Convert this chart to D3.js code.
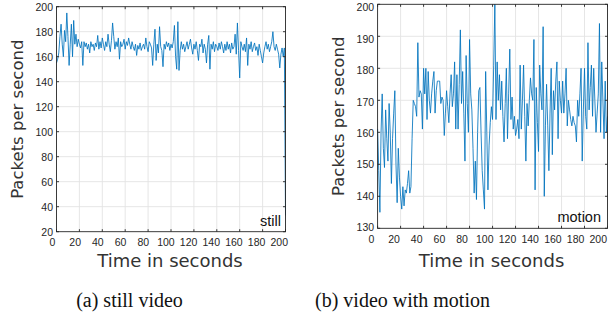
<!DOCTYPE html>
<html>
<head>
<meta charset="utf-8">
<script src="https://cdn.jsdelivr.net/npm/d3@7"></script>
<style>
  body { margin: 0; background: #fff; }
  svg { display: block; }
</style>
</head>
<body>
<svg id="chart" width="608" height="324"></svg>
<script>
// Packets per second, one sample per second (t = 0..200)
const stillRate = [
  155, 158, 163, 176, 186, 170, 160, 181, 172, 195, 176, 153, 170, 186, 160, 189, 170, 178, 168, 174,
  170, 167, 172, 153, 172, 168, 171, 166, 170, 163, 172, 168, 170, 165, 171, 168, 177, 166, 172, 167,
  175, 170, 165, 172, 168, 178, 170, 164, 173, 187, 176, 166, 172, 168, 175, 158, 172, 168, 170, 174,
  166, 172, 169, 175, 170, 166, 172, 168, 165, 170, 161, 169, 166, 171, 165, 168, 170, 166, 175, 168,
  164, 172, 170, 167, 153, 170, 182, 157, 170, 163, 184, 168, 165, 152, 170, 166, 172, 168, 171, 165,
  170, 167, 172, 185, 160, 150, 188, 149, 165, 172, 166, 170, 164, 168, 172, 166, 170, 174, 167, 162,
  170, 166, 172, 165, 157, 170, 168, 174, 163, 170, 166, 155, 170, 177, 150, 170, 166, 172, 164, 170,
  168, 165, 171, 166, 172, 168, 163, 170, 165, 172, 166, 170, 163, 171, 166, 168, 178, 162, 187, 165,
  143, 172, 168, 165, 170, 164, 175, 153, 170, 166, 172, 164, 168, 171, 165, 168, 161, 170, 165, 160,
  155, 163, 168, 172, 166, 170, 164, 168, 172, 180, 168, 165, 170, 166, 162, 151, 162, 167, 160, 167,
  33
];
const motionRate = [
  161, 148, 135, 160, 172, 155, 149, 167, 158, 151, 169, 160, 144, 158, 166, 173, 150, 138, 155, 146,
  140, 136, 143, 137, 142, 141, 144, 148, 141, 143, 158, 170, 169, 168, 165, 188, 171, 173, 172, 161,
  180, 172, 180, 164, 179, 170, 166, 172, 176, 179, 166, 173, 176, 176, 176, 169, 171, 170, 159, 166,
  173, 168, 163, 172, 178, 168, 172, 182, 161, 178, 161, 175, 192, 169, 179, 166, 151, 184, 169, 160,
  189, 172, 167, 155, 141, 151, 139, 160, 173, 174, 160, 148, 142, 136, 179, 160, 142, 156, 163, 168,
  164, 181, 200, 164, 182, 170, 178, 167, 176, 165, 157, 169, 180, 158, 172, 186, 164, 171, 161, 165,
  159, 161, 164, 158, 181, 161, 170, 181, 165, 151, 169, 162, 170, 177, 172, 170, 189, 142, 174, 163,
  154, 181, 172, 167, 193, 140, 162, 175, 162, 148, 166, 180, 153, 173, 167, 176, 182, 158, 176, 170,
  166, 176, 166, 172, 180, 162, 170, 167, 164, 162, 165, 163, 162, 157, 170, 165, 172, 180, 151, 167,
  180, 165, 161, 188, 167, 174, 181, 165, 180, 170, 160, 166, 172, 194, 160, 182, 170, 158, 176, 160,
  165
];
const timeTicks = [0, 20, 40, 60, 80, 100, 120, 140, 160, 180, 200];
const stillTicks = [20, 40, 60, 80, 100, 120, 140, 160, 180, 200];
const motionTicks = [130, 140, 150, 160, 170, 180, 190, 200];
const captions = ['(a) still video', '(b) video with motion'];
const tags = ['still', 'motion'];

const svg = d3.select('#chart');
const lineColor = '#0072bd';
const axisColor = '#262626';

function drawPanel(p) {
  const x = d3.scaleLinear().domain([0, 200]).range([p.left, p.right]);
  const y = d3.scaleLinear().domain(p.yDomain).range([p.bottom, p.top]);
  // tick labels sit slightly off their grid lines in the original
  const xl = d3.scaleLinear().domain([0, 200]).range(p.xLabelRange);
  const yl = d3.scaleLinear().domain(p.yDomain).range(p.yLabelRange);
  const g = svg.append('g');

  // grid
  g.append('g')
    .selectAll('line')
    .data(timeTicks.slice(1, -1))
    .join('line')
    .attr('x1', (d) => x(d)).attr('x2', (d) => x(d))
    .attr('y1', p.top).attr('y2', p.bottom)
    .attr('stroke', '#e3e3e3').attr('stroke-width', 0.9);
  g.append('g')
    .selectAll('line')
    .data(p.yTicks.slice(1, -1))
    .join('line')
    .attr('x1', p.left).attr('x2', p.right)
    .attr('y1', (d) => y(d)).attr('y2', (d) => y(d))
    .attr('stroke', '#e3e3e3').attr('stroke-width', 0.9);

  // data line
  const line = d3.line()
    .x((d, i) => x(i))
    .y((d) => y(d));
  g.append('path')
    .datum(p.values)
    .attr('d', line)
    .attr('fill', 'none')
    .attr('stroke', lineColor)
    .attr('stroke-width', 0.85)
    .attr('stroke-linejoin', 'round');

  // box
  g.append('rect')
    .attr('x', p.left).attr('y', p.top)
    .attr('width', p.right - p.left).attr('height', p.bottom - p.top)
    .attr('fill', 'none')
    .attr('stroke', axisColor)
    .attr('stroke-width', 0.9);

  // inward ticks on all four sides
  const tk = 2.5;
  timeTicks.forEach((t) => {
    g.append('line').attr('x1', x(t)).attr('x2', x(t))
      .attr('y1', p.bottom).attr('y2', p.bottom - tk)
      .attr('stroke', axisColor).attr('stroke-width', 0.9);
    g.append('line').attr('x1', x(t)).attr('x2', x(t))
      .attr('y1', p.top).attr('y2', p.top + tk)
      .attr('stroke', axisColor).attr('stroke-width', 0.9);
  });
  p.yTicks.forEach((v) => {
    g.append('line').attr('x1', p.left).attr('x2', p.left + tk)
      .attr('y1', y(v)).attr('y2', y(v))
      .attr('stroke', axisColor).attr('stroke-width', 0.9);
    g.append('line').attr('x1', p.right).attr('x2', p.right - tk)
      .attr('y1', y(v)).attr('y2', y(v))
      .attr('stroke', axisColor).attr('stroke-width', 0.9);
  });

  // tick labels
  g.append('g')
    .selectAll('text')
    .data(timeTicks)
    .join('text')
    .attr('x', (d) => xl(d))
    .attr('y', p.bottom + 14.5)
    .attr('text-anchor', 'middle')
    .attr('font-family', 'Liberation Sans, Arial, sans-serif')
    .attr('font-size', 10.5)
    .attr('fill', axisColor)
    .text((d) => d);
  g.append('g')
    .selectAll('text')
    .data(p.yTicks)
    .join('text')
    .attr('x', p.left - 3.5)
    .attr('y', (d) => yl(d) + 3.8)
    .attr('text-anchor', 'end')
    .attr('font-family', 'Liberation Sans, Arial, sans-serif')
    .attr('font-size', 10.5)
    .attr('fill', axisColor)
    .text((d) => d);

  // axis titles
  g.append('text')
    .attr('x', (p.left + p.right) / 2 - 1)
    .attr('y', 267)
    .attr('text-anchor', 'middle')
    .attr('font-family', 'DejaVu Sans, sans-serif')
    .attr('font-size', 18)
    .attr('fill', '#333')
    .text('Time in seconds');
  g.append('text')
    .attr('transform', `translate(${p.yTitleX},${(p.top + p.bottom) / 2}) rotate(-90)`)
    .attr('text-anchor', 'middle')
    .attr('font-family', 'DejaVu Sans, sans-serif')
    .attr('font-size', 16.5)
    .attr('fill', '#333')
    .text('Packets per second');

  // tag inside the plot
  g.append('text')
    .attr('x', p.tagX)
    .attr('y', p.bottom - 6)
    .attr('text-anchor', 'end')
    .attr('font-family', 'Liberation Sans, Arial, sans-serif')
    .attr('font-size', 14.5)
    .attr('fill', '#111')
    .text(p.tag);

  // caption
  svg.append('text')
    .attr('x', p.captionX)
    .attr('y', 307)
    .attr('text-anchor', 'middle')
    .attr('font-family', 'Liberation Serif, Times New Roman, serif')
    .attr('font-size', 20)
    .attr('fill', '#111')
    .text(p.caption);
}

drawPanel({
  left: 56.5, right: 285.5, top: 6.7, bottom: 231.7,
  yDomain: [20, 200], yTicks: stillTicks, values: stillRate,
  xLabelRange: [52.5, 279.3], yLabelRange: [232, 7.6],
  yTitleX: 23, tagX: 281, tag: tags[0],
  caption: captions[0], captionX: 129.5
});
drawPanel({
  left: 377.6, right: 607.5, top: 4.3, bottom: 228.3,
  yDomain: [130, 200], yTicks: motionTicks, values: motionRate,
  xLabelRange: [371.3, 598.3], yLabelRange: [227.3, 7.6],
  yTitleX: 344, tagX: 601, tag: tags[1],
  caption: captions[1], captionX: 402.5
});
</script>
</body>
</html>
